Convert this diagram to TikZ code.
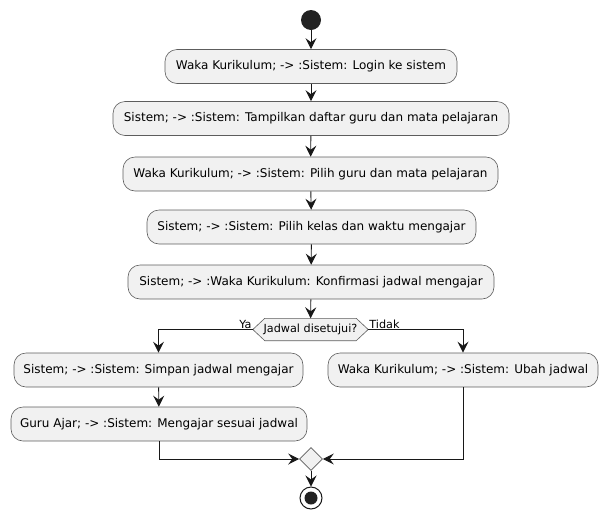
\documentclass[tikz,border=0pt]{standalone}
\usepackage{fontspec}
\setmainfont{DejaVu Sans}
\usetikzlibrary{arrows.meta,shapes.geometric,calc,backgrounds}
\definecolor{linec}{HTML}{181818}
\definecolor{boxfill}{HTML}{F1F1F1}
\definecolor{dotc}{HTML}{222222}
\begin{document}
\begin{tikzpicture}[x=1pt,y=-1pt,
  act/.style={draw=linec!70, fill=boxfill, rounded corners=12pt, line width=0.6pt,
    minimum height=34pt, inner sep=0pt, font=\fontsize{12}{14}\selectfont, text=black},
  arr/.style={draw=linec, line width=0.9pt, -{Stealth[length=11pt,width=11pt,inset=4pt]}},
  lbl/.style={font=\fontsize{11.2}{13}\selectfont, inner sep=1pt, text=black}]
\useasboundingbox (0,0) rectangle (608,523);
\node[circle, fill=dotc, minimum size=20pt, inner sep=0pt] (start) at (311,20) {};
\node[act, minimum width=292pt] (b1) at (311,66.5) {Waka Kurikulum; -> :Sistem: Login ke sistem};
\node[act, minimum width=396pt] (b2) at (311,118.5) {Sistem; -> :Sistem: Tampilkan daftar guru dan mata pelajaran};
\node[act, minimum width=375pt] (b3) at (310.5,174) {Waka Kurikulum; -> :Sistem: Pilih guru dan mata pelajaran};
\node[act, minimum width=329pt] (b4) at (311.5,227) {Sistem; -> :Sistem: Pilih kelas dan waktu mengajar};
\node[act, minimum width=366pt] (b5) at (311,282) {Sistem; -> :Waka Kurikulum: Konfirmasi jadwal mengajar};
\node[minimum width=115pt, minimum height=22pt, inner sep=0pt, font=\fontsize{11.2}{13}\selectfont] (dec) at (310.5,329.5) {Jadwal disetujui?};
\begin{scope}[on background layer]
\draw[draw=linec!70, fill=boxfill, line width=0.6pt] (dec.west) -- ($(dec.north west)+(12,0)$) -- ($(dec.north east)+(-12,0)$) -- (dec.east) -- ($(dec.south east)+(-12,0)$) -- ($(dec.south west)+(12,0)$) -- cycle;
\end{scope}
\node[act, minimum width=289pt] (b6) at (158.5,370) {Sistem; -> :Sistem: Simpan jadwal mengajar};
\node[act, minimum width=296pt] (b7) at (159,424) {Guru Ajar; -> :Sistem: Mengajar sesuai jadwal};
\node[act, minimum width=270pt] (b8) at (463,370) {Waka Kurikulum; -> :Sistem: Ubah jadwal};
\node[diamond, draw=linec!70, fill=boxfill, line width=0.6pt, minimum width=23pt, minimum height=23pt, inner sep=0pt] (mrg) at (311,459) {};
\node[circle, draw=linec, line width=1pt, fill=white, minimum size=22pt, inner sep=0pt] (stop) at (311,498) {};
\node[circle, fill=dotc, minimum size=13pt, inner sep=0pt] at (stop) {};
\draw[arr] (start) -- (b1);
\draw[arr] (b1) -- (b2);
\draw[arr] (b2) -- (b3);
\draw[arr] (b3) -- (b4);
\draw[arr] (b4) -- (b5);
\draw[arr] (b5) -- (dec);
\draw[arr] (dec.west) -| (b6.north);
\draw[arr] (dec.east) -| (b8.north);
\node[lbl, anchor=south east] at (dec.west) {Ya};
\node[lbl, anchor=south west] at (dec.east) {Tidak};
\draw[arr] (b6) -- (b7);
\draw[arr] (b7.south) |- (mrg.west);
\draw[arr] (b8.south) |- (mrg.east);
\draw[arr] (mrg) -- (stop);
\end{tikzpicture}
\end{document}
